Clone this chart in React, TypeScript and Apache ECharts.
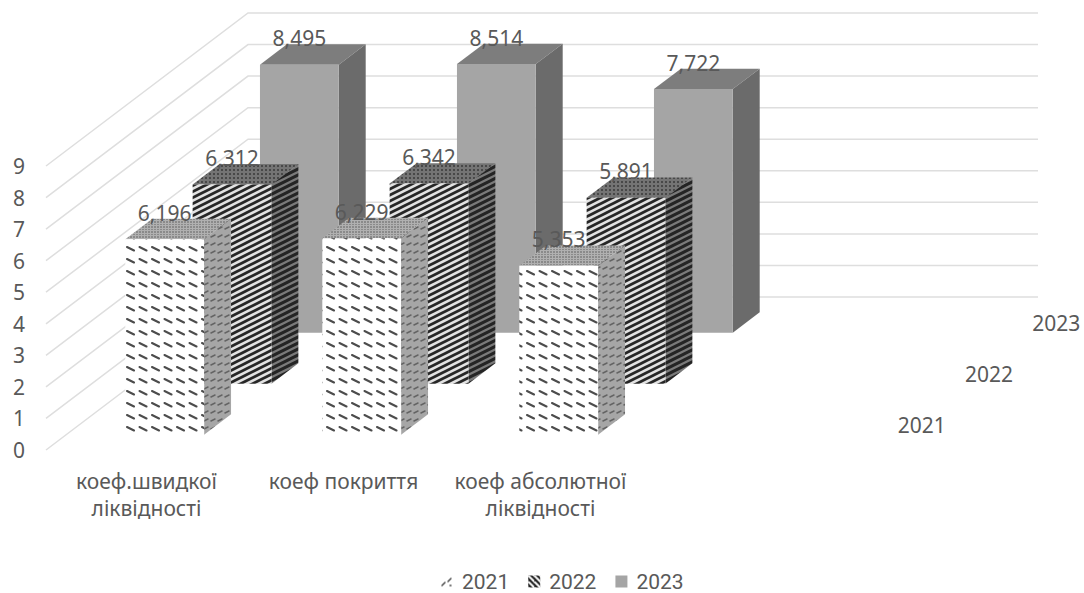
import React, { useEffect, useRef } from "react";
import * as echarts from "echarts";

// Chart data: liquidity ratios by year
const categories = ["коеф.швидкої\nліквідності", "коеф покриття", "коеф абсолютної\nліквідності", ""];
const years = ["2021", "2022", "2023"];
const values2021 = [6.196, 6.229, 5.353];
const values2022 = [6.312, 6.342, 5.891];
const values2023 = [8.495, 8.514, 7.722];
const yTicks = [0, 1, 2, 3, 4, 5, 6, 7, 8, 9];

// Oblique projection of the floor depth, in pixels
const DEPTH_X = 202;
const DEPTH_Y = -153;
const BACK_WALL_RIGHT = 1038;
const BAR_SHARE = 0.4;
const FONT = '"Noto Sans", sans-serif';
const LEGEND_FONT = "Roboto, sans-serif";
const TEXT_COLOR = "#595959";
const FONT_SIZE = 21;

type TileDraw = (c: CanvasRenderingContext2D, w: number, h: number) => void;

function tile(w: number, h: number, bg: string, draw: TileDraw) {
  const canvas = document.createElement("canvas");
  canvas.width = w;
  canvas.height = h;
  const c = canvas.getContext("2d") as CanvasRenderingContext2D;
  c.fillStyle = bg;
  c.fillRect(0, 0, w, h);
  draw(c, w, h);
  return { image: canvas, repeat: "repeat", imageWidth: w, imageHeight: h };
}

function segments(color: string, width: number, lines: number[][]): TileDraw {
  return (c) => {
    c.strokeStyle = color;
    c.lineWidth = width;
    c.lineCap = "round";
    lines.forEach(([x1, y1, x2, y2]) => {
      c.beginPath();
      c.moveTo(x1, y1);
      c.lineTo(x2, y2);
      c.stroke();
    });
  };
}

// Stripes rising to the right, seamless on a 12x6 tile
const risingStripes = (color: string, width: number) =>
  segments(color, width, [
    [-12, 6, 12, -6],
    [-12, 12, 24, -6],
    [0, 12, 24, 0],
    [0, 18, 24, 6],
  ]);

function dots(color: string, size: number, step: number): TileDraw {
  return (c, w, h) => {
    c.fillStyle = color;
    for (let x = 0; x < w; x += step) {
      for (let y = 0; y < h; y += step) c.fillRect(x + 1, y + 1, size, size);
    }
  };
}

function buildFaces() {
  return [
    {
      front: tile(25, 24, "#ffffff", segments("#4c4c4c", 2.1, [
        [2, 7, 9, 10.5],
        [14.5, 7, 21.5, 10.5],
        [2, 19, 9, 22.5],
        [14.5, 19, 21.5, 22.5],
      ])),
      side: tile(7, 8, "#a6a6a6", segments("#646464", 1.5, [[1, 5, 5, 3]])),
      top: tile(6, 5, "#b0b0b0", dots("#8a8a8a", 2, 3)),
    },
    {
      front: tile(12, 6, "#e2e2e2", risingStripes("#262626", 2.8)),
      side: tile(12, 6, "#7a7a7a", risingStripes("#242424", 3)),
      top: tile(8, 8, "#747474", dots("#484848", 2, 4)),
    },
    { front: "#a5a5a5", side: "#6b6b6b", top: "#7d7d7d" },
  ];
}

function buildLegendMarks() {
  return [
    tile(12, 12, "#ffffff", segments("#4d4d4d", 1.5, [
      [1, 10, 4, 7],
      [7, 6, 10, 3],
      [9, 10, 10, 10],
    ])),
    tile(6, 6, "#ffffff", segments("#1a1a1a", 2.2, [
      [-3, 0, 3, 6],
      [0, -3, 9, 6],
      [-3, 3, 3, 9],
    ])),
    "#a5a5a5",
  ];
}

const formatValue = (v: number) => v.toFixed(3).replace(".", ",");

function barSeries(name: string, values: number[], depthIndex: number, faces: any) {
  return {
    name,
    type: "custom",
    coordinateSystem: "cartesian2d",
    z: 6 - depthIndex,
    itemStyle: { color: faces.front },
    encode: { x: 0, y: 1 },
    data: values.map((v, i) => [i, v]),
    renderItem: (params: any, api: any) => {
      const cat = api.value(0);
      const val = api.value(1);
      const base = api.coord([cat, 0]);
      const top = api.coord([cat, val]);
      const w = api.size([1, 0])[0] * BAR_SHARE;
      const near = (depthIndex + (1 - BAR_SHARE) / 2) / years.length;
      const far = (depthIndex + (1 + BAR_SHARE) / 2) / years.length;
      const l = base[0] - w / 2 + near * DEPTH_X;
      const r = l + w;
      const b = base[1] + near * DEPTH_Y;
      const t = top[1] + near * DEPTH_Y;
      const dx = (far - near) * DEPTH_X;
      const dy = (far - near) * DEPTH_Y;
      return {
        type: "group",
        children: [
          {
            type: "polygon",
            shape: { points: [[l, t], [r, t], [r + dx, t + dy], [l + dx, t + dy]] },
            style: { fill: faces.top },
          },
          {
            type: "polygon",
            shape: { points: [[r, t], [r + dx, t + dy], [r + dx, b + dy], [r, b]] },
            style: { fill: faces.side },
          },
          {
            type: "polygon",
            shape: { points: [[l, t], [r, t], [r, b], [l, b]] },
            style: { fill: faces.front },
          },
          {
            type: "text",
            z2: 100,
            style: {
              x: (l + r) / 2,
              y: t - 26.5,
              text: formatValue(val),
              align: "center",
              verticalAlign: "middle",
              fill: TEXT_COLOR,
              font: `${FONT_SIZE}px ${FONT}`,
            },
          },
        ],
      };
    },
  };
}

// Gridlines run from the front edge over the floor depth and along the back wall
const wallSeries = {
  name: "walls",
  type: "custom",
  coordinateSystem: "cartesian2d",
  z: 1,
  silent: true,
  data: yTicks.map((t) => [0, t]),
  encode: { x: 0, y: 1 },
  renderItem: (params: any, api: any) => {
    const p = api.coord([0, api.value(1)]);
    const x0 = p[0] - api.size([1, 0])[0] / 2;
    return {
      type: "polyline",
      shape: {
        points: [
          [x0, p[1]],
          [x0 + DEPTH_X, p[1] + DEPTH_Y],
          [BACK_WALL_RIGHT, p[1] + DEPTH_Y],
        ],
      },
      style: { fill: "none", stroke: "#dedede", lineWidth: 1.5 },
    };
  },
};

// Year captions along the depth axis, right of the floor
const depthAxisSeries = {
  name: "depth",
  type: "custom",
  coordinateSystem: "cartesian2d",
  z: 1,
  silent: true,
  data: years.map((y, i) => [categories.length - 1, 0, i]),
  encode: { x: 0, y: 1 },
  renderItem: (params: any, api: any) => {
    const p = api.coord([api.value(0), 0]);
    const half = api.size([1, 0])[0] / 2;
    const i = api.value(2);
    const d = (i + 0.5) / years.length;
    return {
      type: "text",
      style: {
        x: p[0] + half + d * DEPTH_X + 54,
        y: p[1] + d * DEPTH_Y,
        text: years[i],
        align: "center",
        verticalAlign: "middle",
        fill: TEXT_COLOR,
        font: `${FONT_SIZE}px ${FONT}`,
      },
    };
  },
};

export default function App() {
  const ref = useRef<HTMLDivElement>(null);

  useEffect(() => {
    if (!ref.current) return;
    const chart = echarts.init(ref.current, undefined, { renderer: "svg" });
    const faces = buildFaces();
    const marks = buildLegendMarks();
    chart.setOption({
      animation: false,
      backgroundColor: "#ffffff",
      grid: { left: 46, top: 166, width: 788, height: 284 },
      xAxis: {
        type: "category",
        data: categories,
        axisLine: { show: false },
        axisTick: { show: false },
        axisLabel: {
          interval: 0,
          margin: 17,
          color: TEXT_COLOR,
          fontFamily: FONT,
          fontSize: FONT_SIZE,
          lineHeight: 27,
          padding: [0, 0, 0, 4],
        },
      },
      yAxis: {
        type: "value",
        min: 0,
        max: 9,
        interval: 1,
        splitLine: { show: false },
        axisLine: { show: false },
        axisTick: { show: false },
        axisLabel: { margin: 21, color: TEXT_COLOR, fontFamily: FONT, fontSize: FONT_SIZE },
      },
      legend: {
        left: 441,
        top: 571,
        padding: 0,
        selectedMode: false,
        itemWidth: 12,
        itemHeight: 12,
        itemGap: 19,
        icon: "rect",
        textStyle: {
          color: TEXT_COLOR,
          fontFamily: LEGEND_FONT,
          fontSize: FONT_SIZE,
          padding: [0, 0, 0, 4],
        },
        data: years.map((y, i) => ({
          name: y,
          itemStyle: { color: marks[i] },
        })),
      },
      series: [
        wallSeries,
        depthAxisSeries,
        barSeries(years[2], values2023, 2, faces[2]),
        barSeries(years[1], values2022, 1, faces[1]),
        barSeries(years[0], values2021, 0, faces[0]),
      ],
    });
    return () => chart.dispose();
  }, []);

  return (
    <div
      ref={ref}
      style={{ position: "fixed", left: 0, top: 0, width: 1084, height: 593 }}
    />
  );
}
